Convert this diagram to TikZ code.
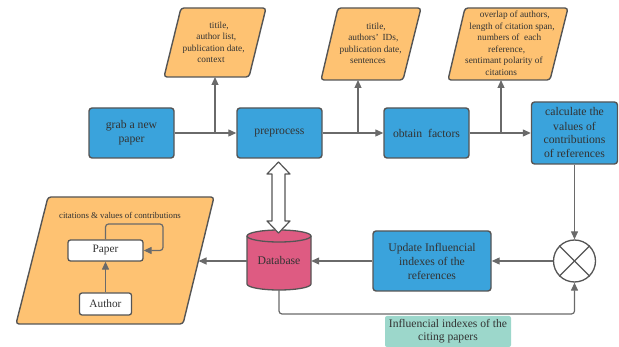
\documentclass[tikz,border=0pt]{standalone}
\usepackage{fontspec}
\setmainfont{Liberation Serif}
\usetikzlibrary{arrows.meta}
\definecolor{boxblue}{HTML}{3AA3DC}
\definecolor{paraorange}{HTML}{FEC272}
\definecolor{dbpink}{HTML}{DE5B82}
\definecolor{tealbox}{HTML}{9CD7CB}
\definecolor{edge}{HTML}{555555}
\definecolor{wire}{HTML}{6A6A6A}
\definecolor{txt}{HTML}{333333}
\begin{document}
\begin{tikzpicture}[x=1pt,y=-1pt,
  every node/.style={text=txt},
  proc/.style={draw=edge, fill=boxblue, line width=1.4pt, rounded corners=3pt,
    align=center, font=\fontsize{11.7}{14}\selectfont, inner sep=2pt},
  para/.style={draw=edge, fill=paraorange, line width=1.4pt, rounded corners=3pt, line join=round},
  paratext/.style={align=center, font=\fontsize{9.3}{11.5}\selectfont, inner sep=0pt},
  wbox/.style={draw=edge, fill=white, line width=1.3pt, rounded corners=2.5pt,
    font=\fontsize{11.3}{13}\selectfont, inner sep=1pt},
  wire/.style={draw=wire, line width=1.2pt},
  arr/.style={wire, -{Triangle[length=8pt,width=7pt]}},
  dblarrow/.style={draw=edge, fill=white, line width=1.2pt, line join=round},
  labelbox/.style={fill=tealbox, rounded corners=2pt, align=center,
    font=\fontsize{11.6}{13}\selectfont, inner sep=1pt},
]
\useasboundingbox (0,0) rectangle (619,347);

% ---------- top parallelograms ----------
\draw[para] (181,8) -- (266,8) -- (249,77) -- (164,77) -- cycle;
\node[paratext] (p1) at (215,42.5) {\hspace*{8.1pt}titile,\\\hspace*{2.7pt}author list,\\\hspace*{-2.7pt}publication date,\\\hspace*{-8.1pt}context};
\coordinate (p1s) at (215,77);

\draw[para] (338,8) -- (421,8) -- (403,80) -- (321,80) -- cycle;
\node[paratext] (p2) at (372,43.5) {\hspace*{8.1pt}titile,\\\hspace*{2.7pt}authors'\ \,IDs,\\\hspace*{-2.7pt}publication date,\\\hspace*{-8.1pt}sentences};
\coordinate (p2s) at (358,80);

\draw[para] (465,8) -- (568,8) -- (550,80) -- (448,80) -- cycle;
\node[paratext] (p3) at (508,43.5) {\hspace*{13.5pt}overlap of authors,\\\hspace*{8.1pt}length of citation span,\\\hspace*{2.7pt}numbers of\ \ each\\\hspace*{-2.7pt}reference,\\\hspace*{-8.1pt}sentimant polarity of\\\hspace*{-13.5pt}citations};
\coordinate (p3s) at (501,80);

% ---------- process boxes ----------
\node[proc, minimum width=85pt, minimum height=50pt] (grab) at (131.5,133) {grab a new\\paper};
\node[proc, minimum width=85pt, minimum height=50pt] (prep) at (279.5,133) {preprocess};
\node[proc, minimum width=85pt, minimum height=50pt] (obt) at (426.5,133) {obtain\ \ factors};
\node[proc, minimum width=86pt, minimum height=62pt] (calc) at (574.5,133) {calculate the\\values of\\contributions\\of references};
\node[proc, minimum width=118pt, minimum height=60pt] (upd) at (432,261) {Update Influencial\\indexes of the\\references};

% ---------- combiner ----------
\node[circle, draw=edge, line width=1.3pt, fill=white, minimum size=42pt, inner sep=0pt] (circ) at (574.5,261) {};
\draw[draw=edge, line width=1.3pt] (circ.north west) -- (circ.south east);
\draw[draw=edge, line width=1.3pt] (circ.north east) -- (circ.south west);

% ---------- database ----------
\fill[dbpink] (247,236) -- (247,284) arc[start angle=180, end angle=360, x radius=32pt, y radius=6pt]
  -- (311,236) arc[start angle=0, end angle=180, x radius=32pt, y radius=6pt] -- cycle;
\draw[draw=edge, line width=1.3pt] (247,236) -- (247,284) arc[start angle=180, end angle=360, x radius=32pt, y radius=6pt] -- (311,236);
\draw[draw=edge, line width=1.3pt] (279,236) ellipse[x radius=32pt, y radius=6pt];
\node[minimum width=64pt, minimum height=58pt, inner sep=0pt, font=\fontsize{11.7}{14}\selectfont] (db) at (279,261) {Database};

% ---------- double arrow between preprocess and database ----------
\draw[dblarrow] (278.5,162) -- (290,174) -- (285,174) -- (285,221) -- (290,221) -- (278.5,233)
  -- (267,221) -- (272,221) -- (272,174) -- (267,174) -- cycle;

% ---------- left parallelogram (data model) ----------
\draw[para] (48,197) -- (214,197) -- (183,324) -- (16,324) -- cycle;
\node[font=\fontsize{8.8}{10}\selectfont, inner sep=0pt] (cv) at (120,215) {citations \& values of contributions};
\node[wbox, minimum width=75pt, minimum height=21pt] (paper) at (105.5,250.5) {Paper};
\node[wbox, minimum width=52pt, minimum height=22pt] (author) at (105.5,304) {Author};
\coordinate (lpe) at (198.5,261);
\coordinate (loop) at (163,224);

% ---------- label ----------
\node[labelbox, minimum width=126pt, minimum height=31pt] (lab) at (448,331.5) {Influencial indexes of the\\citing papers};
\coordinate (lb) at (574.5,314);

% ---------- connectors ----------
\coordinate (j1) at (p1s |- grab.east);
\coordinate (j2) at (p2s |- prep.east);
\coordinate (j3) at (p3s |- obt.east);
\draw[arr] (grab) -- (prep);
\draw[arr] (j1) -- (p1s);
\draw[arr] (prep) -- (obt);
\draw[arr] (j2) -- (p2s);
\draw[arr] (obt) -- (calc);
\draw[arr] (j3) -- (p3s);
\draw[arr] (calc) -- (circ);
\draw[arr] (circ) -- (upd);
\draw[arr] (upd) -- (db);
\draw[arr] (db.west) -- (lpe);
\draw[arr, rounded corners=3pt] (db.south) |- (lb) -- (circ.south);
\draw[arr] (author) -- (paper);
\draw[arr, rounded corners=3pt] (paper.north) |- (loop) |- (paper.east);
\end{tikzpicture}
\end{document}
